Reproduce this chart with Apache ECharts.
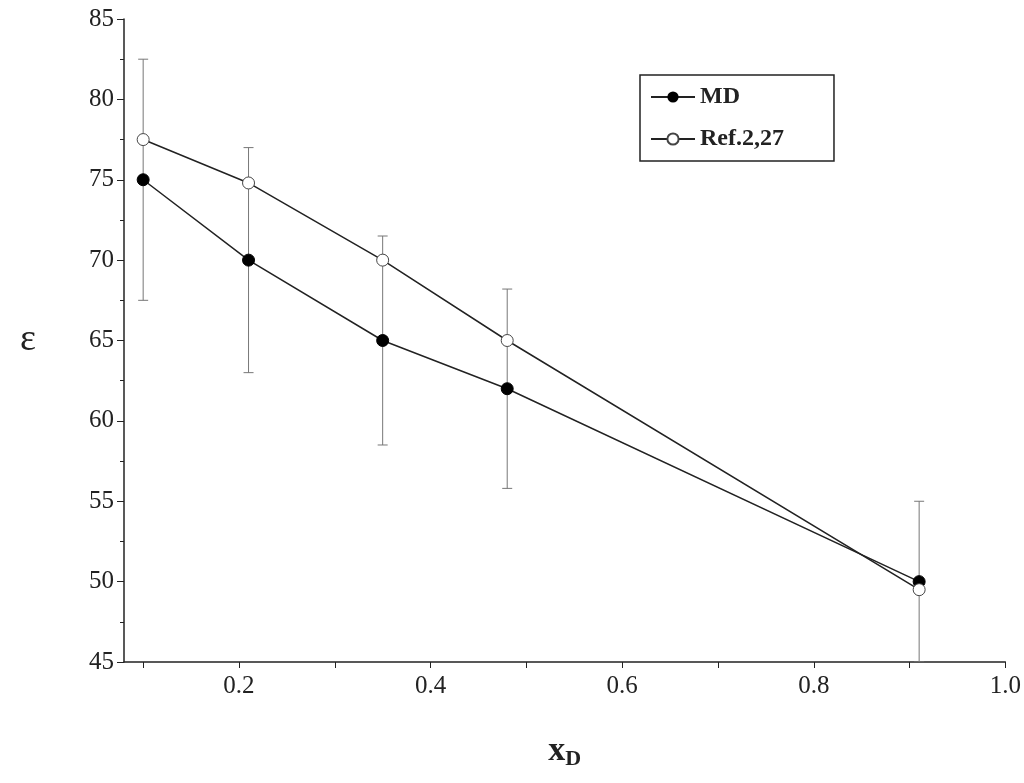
<!DOCTYPE html>
<html><head><meta charset="utf-8">
<script src="https://cdn.jsdelivr.net/npm/echarts@6/dist/echarts.min.js"></script>
<style>html,body{margin:0;background:#fff}#c{width:1024px;height:783px}</style>
</head><body><div id="c"></div>
<script>
// data
const xD = [0.1, 0.21, 0.35, 0.48, 0.91]
const mdValues = [75, 70, 65, 62, 50]
const mdErrors = [7.5, 7, 6.5, 6.2, 5]
const refValues = [77.5, 74.8, 70, 65, 49.5]
const xTickLabels = [0.2, 0.4, 0.6, 0.8, 1.0]
const xTicks = [0.1, 0.2, 0.3, 0.4, 0.5, 0.6, 0.7, 0.8, 0.9, 1.0]

const font = 'Liberation Serif'
const chart = echarts.init(document.getElementById('c'))

const errData = xD.map((x, i) => [x, mdValues[i] - mdErrors[i], mdValues[i] + mdErrors[i]])

chart.setOption({
  animation: false,
  grid: { left: 124, right: 18, top: 19, bottom: 121 },
  xAxis: {
    type: 'value', min: 0.08, max: 1.0,
    name: '{x|x}{d|D}', nameLocation: 'middle', nameGap: 70,
    nameTextStyle: { rich: {
      x: { fontFamily: font, fontWeight: 'bold', fontSize: 34, color: '#222' },
      d: { fontFamily: font, fontWeight: 'bold', fontSize: 22, color: '#222', verticalAlign: 'bottom', padding: [16, 0, 0, 0] }
    } },
    axisLine: { lineStyle: { color: '#222', width: 1.5 } },
    axisTick: { customValues: xTicks, length: 6, lineStyle: { color: '#222' } },
    axisLabel: { customValues: xTickLabels, formatter: v => v.toFixed(1), fontFamily: font, fontSize: 25, color: '#222', margin: 12 },
    splitLine: { show: false }
  },
  yAxis: {
    type: 'value', min: 45, max: 85, interval: 5,
    name: 'ε', nameLocation: 'middle', nameGap: 88, nameRotate: 0,
    nameTextStyle: { fontFamily: font, fontSize: 38, color: '#222' },
    axisLine: { show: true, lineStyle: { color: '#222', width: 1.5 } },
    axisTick: { length: 7, lineStyle: { color: '#222' } },
    minorTick: { show: true, splitNumber: 2, length: 4, lineStyle: { color: '#222' } },
    axisLabel: { fontFamily: font, fontSize: 25, color: '#222', margin: 10 },
    splitLine: { show: false }
  },
  legend: {
    left: 640, top: 75, orient: 'vertical', itemGap: 18, itemWidth: 44,
    padding: [10, 50, 10, 10],
    borderColor: '#222', borderWidth: 1.5,
    textStyle: { fontFamily: font, fontWeight: 'bold', fontSize: 24, color: '#222' },
    data: ['MD', 'Ref.2,27']
  },
  series: [
    {
      type: 'custom', name: 'err', silent: true, z: 1,
      data: errData,
      renderItem: (params, api) => {
        const lo = api.coord([api.value(0), api.value(1)])
        const hi = api.coord([api.value(0), api.value(2)])
        const s = { stroke: '#777', lineWidth: 1 }
        return { type: 'group', children: [
          { type: 'line', shape: { x1: lo[0], y1: lo[1], x2: hi[0], y2: hi[1] }, style: s },
          { type: 'line', shape: { x1: lo[0] - 5, y1: lo[1], x2: lo[0] + 5, y2: lo[1] }, style: s },
          { type: 'line', shape: { x1: hi[0] - 5, y1: hi[1], x2: hi[0] + 5, y2: hi[1] }, style: s }
        ] }
      },
      clip: true
    },
    {
      type: 'line', name: 'MD', z: 3,
      data: xD.map((x, i) => [x, mdValues[i]]),
      symbol: 'circle', symbolSize: 12,
      lineStyle: { color: '#222', width: 1.5 },
      itemStyle: { color: '#000', borderColor: '#000' }
    },
    {
      type: 'line', name: 'Ref.2,27', z: 3,
      data: xD.map((x, i) => [x, refValues[i]]),
      symbol: 'circle', symbolSize: 12,
      lineStyle: { color: '#222', width: 1.5 },
      itemStyle: { color: '#fff', borderColor: '#444', borderWidth: 1 }
    }
  ]
})
</script></body></html>
